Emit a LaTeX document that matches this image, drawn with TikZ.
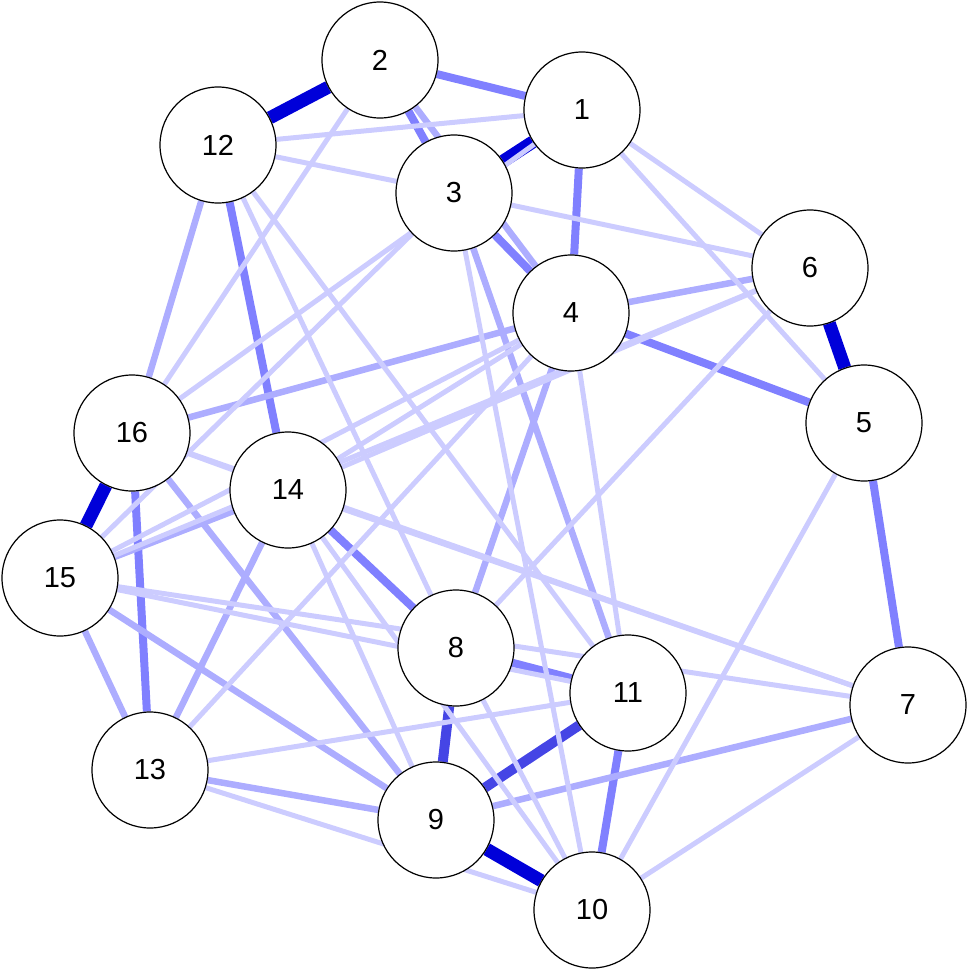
\documentclass[tikz,border=0pt]{standalone}
\usepackage{fontspec}
\setmainfont{Liberation Sans}
\usetikzlibrary{backgrounds}
\begin{document}
\begin{tikzpicture}[x=1pt,y=-1pt,
    vertex/.style={circle,draw,line width=1.2pt,fill=white,minimum size=116pt,inner sep=0pt,
      font=\fontsize{29}{31}\selectfont},
    wA/.style={line width=13pt,color=blue!85!black},
    wB/.style={line width=10pt,color=blue!70!white!90!black},
    wC/.style={line width=8pt,color=blue!50!white},
    wD/.style={line width=6.5pt,color=blue!32!white},
    wE/.style={line width=5pt,color=blue!20!white}]
    \useasboundingbox (0,0) rectangle (969,970);

    % vertices
    \foreach \n/\x/\y in {1/582/110, 2/380/60, 3/454/193, 4/571/313, 5/864/423,
        6/810/268, 7/908/705, 8/456/648, 9/436/820, 10/592/910, 11/628/693,
        12/218/145, 13/150/770, 14/288/490, 15/60/578, 16/132/433}
        \node[vertex] (n\n) at (\x,\y) {\n};

    % edges
    \begin{pgfonlayer}{background}
        \foreach \a/\b in {1/3, 2/12, 5/6, 15/16, 9/10}
            \draw[wA] (n\a) -- (n\b);
        \foreach \a/\b in {8/9, 9/11}
            \draw[wB] (n\a) -- (n\b);
        \foreach \a/\b in {4/5, 5/7, 12/14, 16/13, 14/8, 8/11, 1/4, 3/4, 2/3, 2/1, 11/10}
            \draw[wC] (n\a) -- (n\b);
        \foreach \a/\b in {4/6, 4/16, 14/15, 14/13, 16/9, 15/13, 15/9, 2/4, 3/11,
            12/16, 13/9, 9/7, 4/8}
            \draw[wD] (n\a) -- (n\b);
        \foreach \a/\b in {12/1, 12/3, 12/8, 12/11, 2/16, 1/6, 1/5, 1/16, 3/6, 3/10,
            3/15, 4/15, 4/14, 4/11, 4/13, 6/14, 6/8, 6/15, 5/10, 7/10, 7/14, 7/15,
            14/16, 14/9, 14/10, 15/11, 13/10, 13/11, 8/10, 16/7}
            \draw[wE] (n\a) -- (n\b);
    \end{pgfonlayer}
\end{tikzpicture}
\end{document}
